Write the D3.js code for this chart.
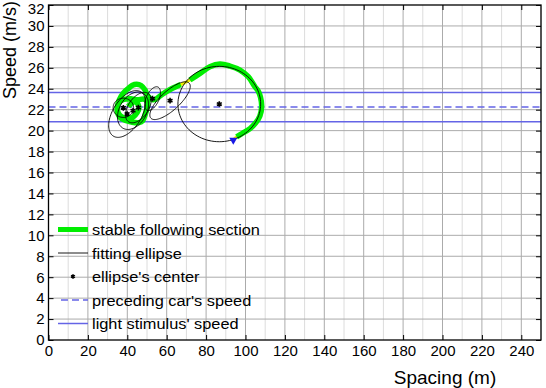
<!DOCTYPE html>
<html>
<head>
<meta charset="utf-8">
<script src="https://cdn.jsdelivr.net/npm/d3@7"></script>
<style>
  html, body { margin: 0; padding: 0; background: #fff; }
  svg { display: block; font-family: "Liberation Sans", Arial, Helvetica, sans-serif; }
</style>
</head>
<body>
<svg id="chart" width="546" height="388"></svg>
<script>
// ---------------- data ----------------
const xTicks = [0, 20, 40, 60, 80, 100, 120, 140, 160, 180, 200, 220, 240];
const xMinorGrid = [10, 30, 50, 70, 90, 110, 130, 150, 170, 190, 210, 230, 250];
const yTicks = [0, 2, 4, 6, 8, 10, 12, 14, 16, 18, 20, 22, 24, 26, 28, 30, 32];

// trajectory (spacing m, speed m/s), starts at the blue triangle
const trajSpacing = [93.8, 95.5, 98.5, 102.3, 105.2, 107.3, 108.2, 107.6, 106.4, 104.8, 101.4, 97.2, 92.1, 87.0, 81.9, 76.9, 71.8, 67.1, 62.0, 58.0, 55.0, 52.8, 50.4,
  49.0, 47.0, 44.8, 42.4, 40.6, 38.9, 36.9, 35.3, 34.8, 35.5, 37.0, 39.5, 42.5, 46.0, 47.8, 49.0, 50.0, 50.2, 48.5,
  45.6, 43.96, 41.9, 39.75, 37.4, 35.5, 34.9, 35.5, 36.9, 38.9, 40.9, 43.1, 45.0, 45.9, 45.6, 44.0, 42.0, 40.5];
const trajSpeed = [19.1, 19.4, 19.75, 20.2, 20.75, 21.4, 22.3, 23.2, 23.8, 24.19, 25.15, 25.79, 26.17, 26.36, 26.1, 25.47, 24.83, 24.4, 23.95, 23.5, 23.05, 22.95, 23.3,
  23.88, 24.31, 24.42, 24.31, 24.04, 23.78, 23.3, 22.6, 22.0, 21.5, 21.15, 20.95, 20.8, 20.77, 20.96, 21.49, 22.16, 22.7, 23.0,
  22.95, 22.97, 23.05, 23.02, 22.92, 22.61, 22.06, 21.65, 21.35, 21.17, 21.16, 21.33, 21.73, 22.13, 22.45, 22.76, 22.6, 22.3];
// stable following sections: [start index, end index]
const stableStart = [1, 17, 20];
const stableEnd   = [16, 20, 59];

// fitted ellipses: center + u*cos(t) + w*sin(t)
const ellipseCx = [38.0, 39.9, 42.9, 45.6, 52.8, 61.7, 86.7];
const ellipseCy = [22.18, 21.59, 21.9, 22.2, 23.05, 22.86, 22.54];
const ellipseUx = [5.2, 7.1, 7.8, 5.07, 4.0, 10.14, 21.0];
const ellipseUy = [0.0, 2.1, 0.8, 1.34, 0.7, 1.53, 0.0];
const ellipseWx = [0.0, 6.08, -1.0, 4.06, -0.5, 1.52, 0.0];
const ellipseWy = [0.92, -0.76, 1.6, -0.57, 0.9, -0.955, 3.6];

const precedingSpeed = 22.25;
const stimulusSpeeds = [23.65, 20.85];

const legendLabels = ["stable following section", "fitting ellipse", "ellipse's center", "preceding car's speed", "light stimulus' speed"];

// ---------------- drawing ----------------
const svg = d3.select("#chart");
const x = d3.scaleLinear().domain([0, 250]).range([48.5, 541]);
const y = d3.scaleLinear().domain([0, 32]).range([340, 5]);
const X0 = x(0), X1 = x(250), Y0 = y(0), Y1 = y(32);

const green = "#00ee00", blue = "#6464e6";

// grid
const grid = svg.append("g");
grid.selectAll(".vmin").data(xMinorGrid).join("line")
  .attr("x1", d => x(d)).attr("x2", d => x(d)).attr("y1", Y1).attr("y2", Y0)
  .attr("stroke", "#dcdcdc").attr("stroke-width", 1);
grid.selectAll(".vmaj").data(xTicks.slice(1)).join("line")
  .attr("x1", d => x(d)).attr("x2", d => x(d)).attr("y1", Y1).attr("y2", Y0)
  .attr("stroke", "#ababab").attr("stroke-width", 1);
grid.selectAll(".h").data(yTicks.slice(1, -1)).join("line")
  .attr("x1", X0).attr("x2", X1).attr("y1", d => y(d)).attr("y2", d => y(d))
  .attr("stroke", "#ababab").attr("stroke-width", 1);

// reference lines
svg.selectAll(".stim").data(stimulusSpeeds).join("line")
  .attr("x1", X0).attr("x2", X1).attr("y1", d => y(d)).attr("y2", d => y(d))
  .attr("stroke", blue).attr("stroke-width", 1.5);
svg.append("line").attr("x1", X0).attr("x2", X1)
  .attr("y1", y(precedingSpeed)).attr("y2", y(precedingSpeed))
  .attr("stroke", blue).attr("stroke-width", 1.5).attr("stroke-dasharray", "7,4");

// trajectory
const traj = trajSpacing.map((s, i) => [s, trajSpeed[i]]);
const line = d3.line().x(d => x(d[0])).y(d => y(d[1])).curve(d3.curveCatmullRom.alpha(0.5));
svg.append("path").attr("d", line(traj)).attr("fill", "none")
  .attr("stroke", "#f0f000").attr("stroke-width", 3).attr("stroke-linejoin", "round");
stableStart.forEach((st, k) => {
  svg.append("path").attr("d", line(traj.slice(st, stableEnd[k] + 1))).attr("fill", "none")
    .attr("stroke", green).attr("stroke-width", 5.5)
    .attr("stroke-linejoin", "round").attr("stroke-linecap", "butt");
});

// ellipses
const tSteps = d3.range(0, 101).map(i => i / 100 * 2 * Math.PI);
ellipseCx.forEach((cx, i) => {
  const pts = tSteps.map(t => [
    cx + ellipseUx[i] * Math.cos(t) + ellipseWx[i] * Math.sin(t),
    ellipseCy[i] + ellipseUy[i] * Math.cos(t) + ellipseWy[i] * Math.sin(t)
  ]);
  svg.append("path").attr("d", d3.line().x(d => x(d[0])).y(d => y(d[1]))(pts))
    .attr("fill", "none").attr("stroke", "#000").attr("stroke-width", 0.9);
});

// centers
const star = d3.symbol(d3.symbolAsterisk, 22);
svg.selectAll(".ctr").data(ellipseCx).join("path")
  .attr("d", star).attr("transform", (d, i) => `translate(${x(d)},${y(ellipseCy[i])})`)
  .attr("fill", "none").attr("stroke", "#000").attr("stroke-width", 1.6);

// start marker (triangle)
svg.append("path").attr("d", d3.symbol(d3.symbolTriangle, 28))
  .attr("transform", `translate(${x(trajSpacing[0])},${y(trajSpeed[0])}) rotate(180)`)
  .attr("fill", "#1a1ae6");

// axes box
svg.append("rect").attr("x", X0).attr("y", Y1).attr("width", X1 - X0).attr("height", Y0 - Y1)
  .attr("fill", "none").attr("stroke", "#000").attr("stroke-width", 1.3);

const fs = "15px";
const ax = svg.append("g").attr("transform", `translate(0,${Y0})`)
  .call(d3.axisBottom(x).tickValues(xTicks).tickSize(-5).tickPadding(5));
const axT = svg.append("g").attr("transform", `translate(0,${Y1})`)
  .call(d3.axisTop(x).tickValues(xTicks).tickSize(-5).tickFormat(""));
const ay = svg.append("g").attr("transform", `translate(${X0},0)`)
  .call(d3.axisLeft(y).tickValues(yTicks).tickSize(-5).tickPadding(4));
const ayR = svg.append("g").attr("transform", `translate(${X1},0)`)
  .call(d3.axisRight(y).tickValues(yTicks).tickSize(-5).tickFormat(""));
[ax, axT, ay, ayR].forEach(g => {
  g.select(".domain").remove();
  g.selectAll("line").attr("stroke", "#000");
  g.selectAll("text").attr("font-size", fs).attr("fill", "#000")
    .attr("font-family", "'Liberation Sans', Arial, Helvetica, sans-serif");
});
// keep the top label inside the picture
ay.selectAll(".tick text").filter(d => d === 32).attr("dy", "0.58em");

// axis labels
svg.append("text").attr("x", 445).attr("y", 384).attr("text-anchor", "middle")
  .attr("font-size", "19px").text("Spacing (m)");
svg.append("text").attr("transform", "translate(16,50) rotate(-90)").attr("text-anchor", "middle")
  .attr("font-size", "18px").text("Speed (m/s)");

// legend
const legY = [229.5, 253, 276.5, 300, 323.5];
const lg = svg.append("g");
legendLabels.forEach((lab, i) => {
  lg.append("text").attr("transform", `translate(92,${legY[i] + 5.5}) scale(1.09,1)`)
    .attr("font-size", "15px").text(lab);
});
lg.append("line").attr("x1", 58).attr("x2", 88).attr("y1", legY[0]).attr("y2", legY[0])
  .attr("stroke", green).attr("stroke-width", 5);
lg.append("line").attr("x1", 58).attr("x2", 88).attr("y1", legY[1]).attr("y2", legY[1])
  .attr("stroke", "#000").attr("stroke-width", 0.9);
lg.append("path").attr("d", d3.symbol(d3.symbolAsterisk, 14))
  .attr("transform", `translate(73,${legY[2]})`).attr("stroke", "#000").attr("stroke-width", 1.6);
lg.append("line").attr("x1", 61).attr("x2", 88).attr("y1", legY[3]).attr("y2", legY[3])
  .attr("stroke", blue).attr("stroke-width", 1.5).attr("stroke-dasharray", "7,4");
lg.append("line").attr("x1", 58).attr("x2", 88).attr("y1", legY[4]).attr("y2", legY[4])
  .attr("stroke", blue).attr("stroke-width", 1.5);
</script>
</body>
</html>
